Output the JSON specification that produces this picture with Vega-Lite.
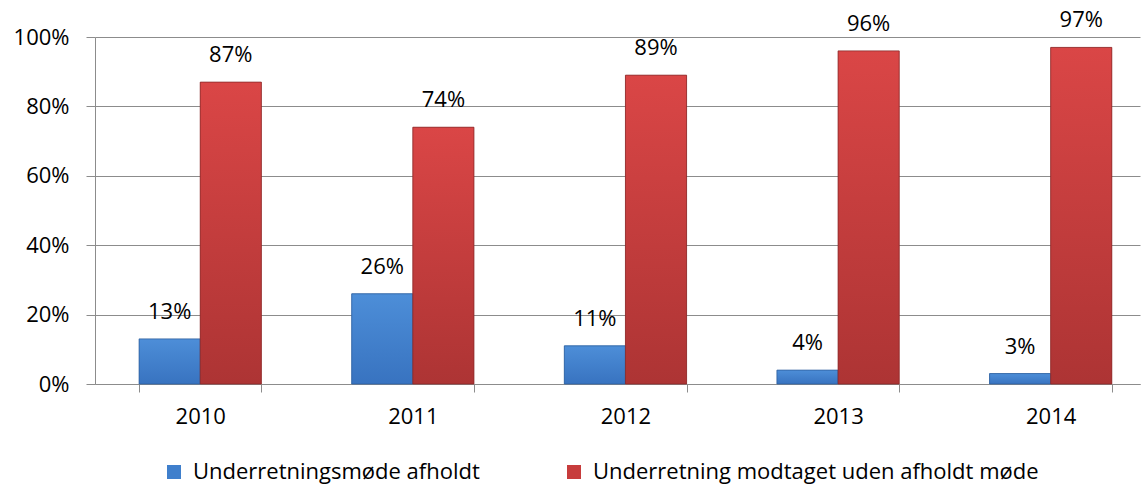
{
  "$schema": "https://vega.github.io/schema/vega-lite/v6.json",
  "width": 1045,
  "height": 347,
  "autosize": "none",
  "padding": {"left": 95, "top": 37, "right": 7, "bottom": 100},
  "background": "white",
  "config": {"view": {"stroke": null}, "font": "Open Sans"},
  "data": {
    "values": [
      {"year": "2010", "series": "Underretningsmøde afholdt", "value": 0.13},
      {"year": "2010", "series": "Underretning modtaget uden afholdt møde", "value": 0.87},
      {"year": "2011", "series": "Underretningsmøde afholdt", "value": 0.26},
      {"year": "2011", "series": "Underretning modtaget uden afholdt møde", "value": 0.74},
      {"year": "2012", "series": "Underretningsmøde afholdt", "value": 0.11},
      {"year": "2012", "series": "Underretning modtaget uden afholdt møde", "value": 0.89},
      {"year": "2013", "series": "Underretningsmøde afholdt", "value": 0.04},
      {"year": "2013", "series": "Underretning modtaget uden afholdt møde", "value": 0.96},
      {"year": "2014", "series": "Underretningsmøde afholdt", "value": 0.03},
      {"year": "2014", "series": "Underretning modtaget uden afholdt møde", "value": 0.97}
    ]
  },
  "encoding": {
    "x": {
      "field": "year",
      "type": "nominal",
      "scale": {"paddingInner": 0.425, "paddingOuter": 0.17, "align": 0.61},
      "axis": {
        "title": null,
        "labelAngle": 0,
        "labelFontSize": 22,
        "labelColor": "#000000",
        "labelPadding": 14,
        "tickBand": "extent",
        "tickSize": 8,
        "tickColor": "#8c8c8c",
        "domainColor": "#8c8c8c",
        "grid": false
      }
    },
    "xOffset": {
      "field": "series",
      "type": "nominal",
      "sort": ["Underretningsmøde afholdt", "Underretning modtaget uden afholdt møde"]
    },
    "y": {
      "field": "value",
      "type": "quantitative",
      "scale": {"domain": [0, 1], "nice": false},
      "axis": {
        "title": null,
        "values": [0, 0.2, 0.4, 0.6, 0.8, 1],
        "format": ".0%",
        "labelFontSize": 22,
        "labelColor": "#000000",
        "labelPadding": 17,
        "tickSize": 9,
        "tickColor": "#8c8c8c",
        "domainColor": "#8c8c8c",
        "gridColor": "#8c8c8c",
        "gridWidth": 1
      }
    }
  },
  "layer": [
    {
      "mark": {"type": "bar"},
      "encoding": {
        "color": {
          "field": "series",
          "type": "nominal",
          "sort": ["Underretningsmøde afholdt", "Underretning modtaget uden afholdt møde"],
          "scale": {"range": ["#3f7fcc", "#c73c3c"]},
          "legend": {
            "orient": "none",
            "legendX": 68,
            "legendY": 424,
            "direction": "horizontal",
            "title": null,
            "symbolType": "square",
            "symbolSize": 196,
            "symbolStrokeWidth": 0,
            "labelFontSize": 22,
            "labelColor": "#000000",
            "labelLimit": 0,
            "labelOffset": 8,
            "columnPadding": 83,
            "padding": 0
          }
        }
      }
    },
    {
      "transform": [{"filter": "datum.series === 'Underretningsmøde afholdt'"}],
      "mark": {
        "type": "bar",
        "stroke": "#2d5f9e",
        "strokeWidth": 0.8,
        "color": {
          "gradient": "linear", "x1": 0, "y1": 0, "x2": 0, "y2": 1,
          "stops": [{"offset": 0, "color": "#4d8ed8"}, {"offset": 1, "color": "#3873c0"}]
        }
      }
    },
    {
      "transform": [{"filter": "datum.series === 'Underretning modtaget uden afholdt møde'"}],
      "mark": {
        "type": "bar",
        "stroke": "#8a2a2a",
        "strokeWidth": 0.8,
        "color": {
          "gradient": "linear", "x1": 0, "y1": 0, "x2": 0, "y2": 1,
          "stops": [{"offset": 0, "color": "#da4646"}, {"offset": 1, "color": "#ad3434"}]
        }
      }
    },
    {
      "mark": {"type": "text", "baseline": "middle", "dy": -27, "fontSize": 22, "color": "#000000"},
      "encoding": {
        "text": {"field": "value", "type": "quantitative", "format": ".0%"}
      }
    }
  ]
}
